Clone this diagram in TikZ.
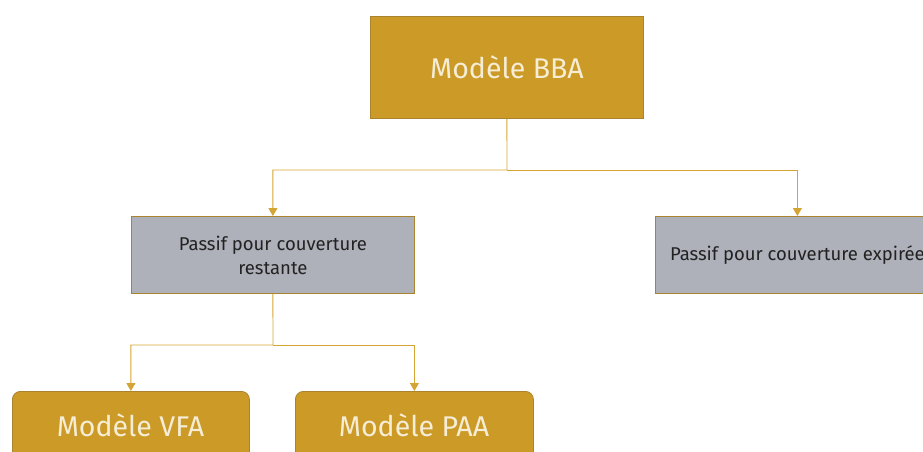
\documentclass[tikz,border=0pt]{standalone}
\usepackage{fontspec}
\setmainfont{Fira Sans}
\usetikzlibrary{arrows.meta}
\definecolor{gold}{HTML}{CC9A27}
\definecolor{goldedge}{HTML}{A9832E}
\definecolor{wire}{HTML}{D4A434}
\definecolor{slate}{HTML}{AEB0BA}
\definecolor{cream}{HTML}{F6EDD6}
\definecolor{ink}{HTML}{222222}
\tikzset{
  x=1pt, y=-1pt,
  modelbox/.style={draw=goldedge, line width=0.8pt, fill=gold, anchor=north west, inner sep=0pt},
  liabbox/.style={draw=goldedge, line width=0.8pt, fill=slate, anchor=north west, inner sep=0pt},
  modeltext/.style={text=cream, font=\fontsize{28.5}{32}\selectfont},
  liabtext/.style={text=ink, font=\fontsize{18.5}{24}\selectfont, align=center},
  link/.style={draw=wire, line width=0.9pt, -{Triangle[length=8pt,width=9pt]}},
}
\begin{document}
\begin{tikzpicture}
\useasboundingbox (0,0) rectangle (923,451);
\clip (0,0) rectangle (923,451);
% top model
\node[modelbox, minimum width=273pt, minimum height=102pt] (bba) at (370,16) {};
\node[modeltext] (bbat) at (bba.center) {Modèle BBA};
% liability boxes
\node[liabbox, minimum width=283pt, minimum height=77pt] (lrc) at (131,216) {};
\node[liabtext] (lrct) at (lrc.center) {Passif pour couverture\\restante};
\node[liabbox, minimum width=284pt, minimum height=77pt] (lic) at (655,216) {};
\node[liabtext] (lict) at (lic.center) {Passif pour couverture expirée};
% bottom models
\node[modelbox, rounded corners=8pt, minimum width=237pt, minimum height=90pt] (vfa) at (12,391) {};
\node[modeltext] (vfat) at (130.5,425) {Modèle VFA};
\node[modelbox, rounded corners=8pt, minimum width=238pt, minimum height=90pt] (paa) at (295,391) {};
\node[modeltext] (paat) at (414,425) {Modèle PAA};
% connectors
\coordinate (j1) at (507,170);
\coordinate (j2) at (273,345);
\draw[link] (bba.south) -- (j1) -| (lrc.north);
\draw[link] (j1) -| (lic.north);
\draw[link] (lrc.south) -- (j2) -| (vfa.north);
\draw[link] (j2) -| (paa.north);
\end{tikzpicture}
\end{document}
